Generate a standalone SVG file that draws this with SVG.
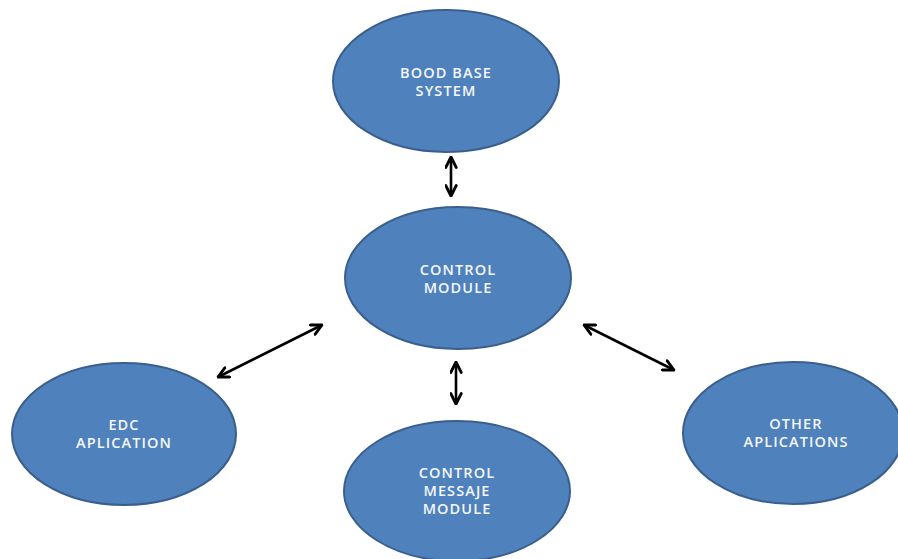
<svg xmlns="http://www.w3.org/2000/svg" width="898" height="559" viewBox="0 0 898 559">
<defs>
<style>
.node ellipse{fill:#4F81BD;stroke:#3A5F8C;stroke-width:2}
.node text{fill:#F4F7FB;font-family:"Open Sans","Liberation Sans",sans-serif;font-size:14.5px;font-weight:600;letter-spacing:1.1px;text-anchor:middle}
.conn line{stroke:#000;stroke-width:2.6;fill:none}
</style>
<marker id="ah" viewBox="0 0 10 10" refX="9" refY="5" markerWidth="5" markerHeight="5" orient="auto-start-reverse" markerUnits="strokeWidth">
<polyline points="1,1 9,5 1,9" fill="none" stroke="#000" stroke-width="2.2" stroke-linecap="round" stroke-linejoin="round"/>
</marker>
</defs>
<rect width="898" height="559" fill="#FFFFFF"/>
<g class="node" id="node-bood"><ellipse cx="446" cy="81" rx="113" ry="71"/><text x="446" y="78">BOOD BASE</text><text x="446" y="96">SYSTEM</text></g>
<g class="node" id="node-control"><ellipse cx="458" cy="278" rx="113" ry="71"/><text x="458" y="275">CONTROL</text><text x="458" y="293">MODULE</text></g>
<g class="node" id="node-edc"><ellipse cx="124" cy="434" rx="112" ry="71"/><text x="124" y="430">EDC</text><text x="124" y="448">APLICATION</text></g>
<g class="node" id="node-messaje"><ellipse cx="457" cy="491" rx="113" ry="70"/><text x="457" y="478">CONTROL</text><text x="457" y="496">MESSAJE</text><text x="457" y="514">MODULE</text></g>
<g class="node" id="node-other"><ellipse cx="793" cy="433" rx="110" ry="71"/><text x="796" y="429">OTHER</text><text x="796" y="447">APLICATIONS</text></g>
<g class="conn" id="connectors">
<line x1="451" y1="157" x2="451" y2="196" marker-start="url(#ah)" marker-end="url(#ah)"/>
<line x1="456" y1="362" x2="456" y2="404" marker-start="url(#ah)" marker-end="url(#ah)"/>
<line x1="218" y1="377" x2="322" y2="325" marker-start="url(#ah)" marker-end="url(#ah)"/>
<line x1="584" y1="325" x2="674" y2="370" marker-start="url(#ah)" marker-end="url(#ah)"/>
</g>
</svg>
